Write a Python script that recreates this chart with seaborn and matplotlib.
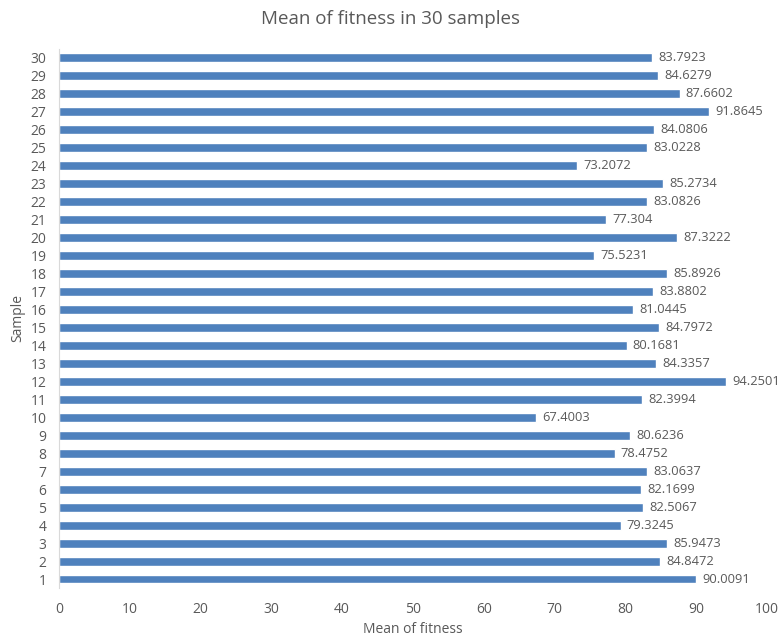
import matplotlib
matplotlib.use("Agg")
import matplotlib.pyplot as plt
import seaborn as sns
import pandas as pd

samples = [str(i) for i in range(1, 31)]
fitness = [90.0091, 84.8472, 85.9473, 79.3245, 82.5067, 82.1699, 83.0637, 78.4752,
           80.6236, 67.4003, 82.3994, 94.2501, 84.3357, 80.1681, 84.7972, 81.0445,
           83.8802, 85.8926, 75.5231, 87.3222, 77.304, 83.0826, 85.2734, 73.2072,
           83.0228, 84.0806, 91.8645, 87.6602, 84.6279, 83.7923]
x_ticks = [0, 10, 20, 30, 40, 50, 60, 70, 80, 90, 100]

df = pd.DataFrame({"Sample": samples, "Mean of fitness": fitness})

sns.set_theme(style="white")
plt.rcParams["font.family"] = ["Open Sans", "DejaVu Sans"]
text_color = "#595959"

fig = plt.figure(figsize=(7.81, 6.41), dpi=100)
ax = fig.add_axes([0.0755, 0.0827, 0.9065, 0.8409])

order = samples[::-1]
sns.barplot(data=df, x="Mean of fitness", y="Sample", order=order, orient="h",
            color="#4F81BD", saturation=1, width=0.5, ax=ax)

labels = [f"{v:g}" for v in df.set_index("Sample").loc[order, "Mean of fitness"]]
for container in ax.containers:
    ax.bar_label(container, labels=labels, padding=4.5, fontsize=9.3, color=text_color)

ax.set_xlim(0, 100)
ax.set_xticks(x_ticks)
ax.tick_params(axis="both", length=0, labelsize=10, colors=text_color)
ax.tick_params(axis="x", pad=10)
ax.tick_params(axis="y", pad=9)
for side in ["top", "right", "bottom"]:
    ax.spines[side].set_visible(False)
ax.spines["left"].set_color("#D9D9D9")
ax.spines["left"].set_linewidth(0.8)

ax.set_xlabel("Mean of fitness", fontsize=10, color=text_color, labelpad=4)
ax.set_ylabel("Sample", fontsize=10, color=text_color, labelpad=4)
fig.suptitle("Mean of fitness in 30 samples", fontsize=13.5, color=text_color, y=0.985)

fig.savefig("out.png", dpi=100)
